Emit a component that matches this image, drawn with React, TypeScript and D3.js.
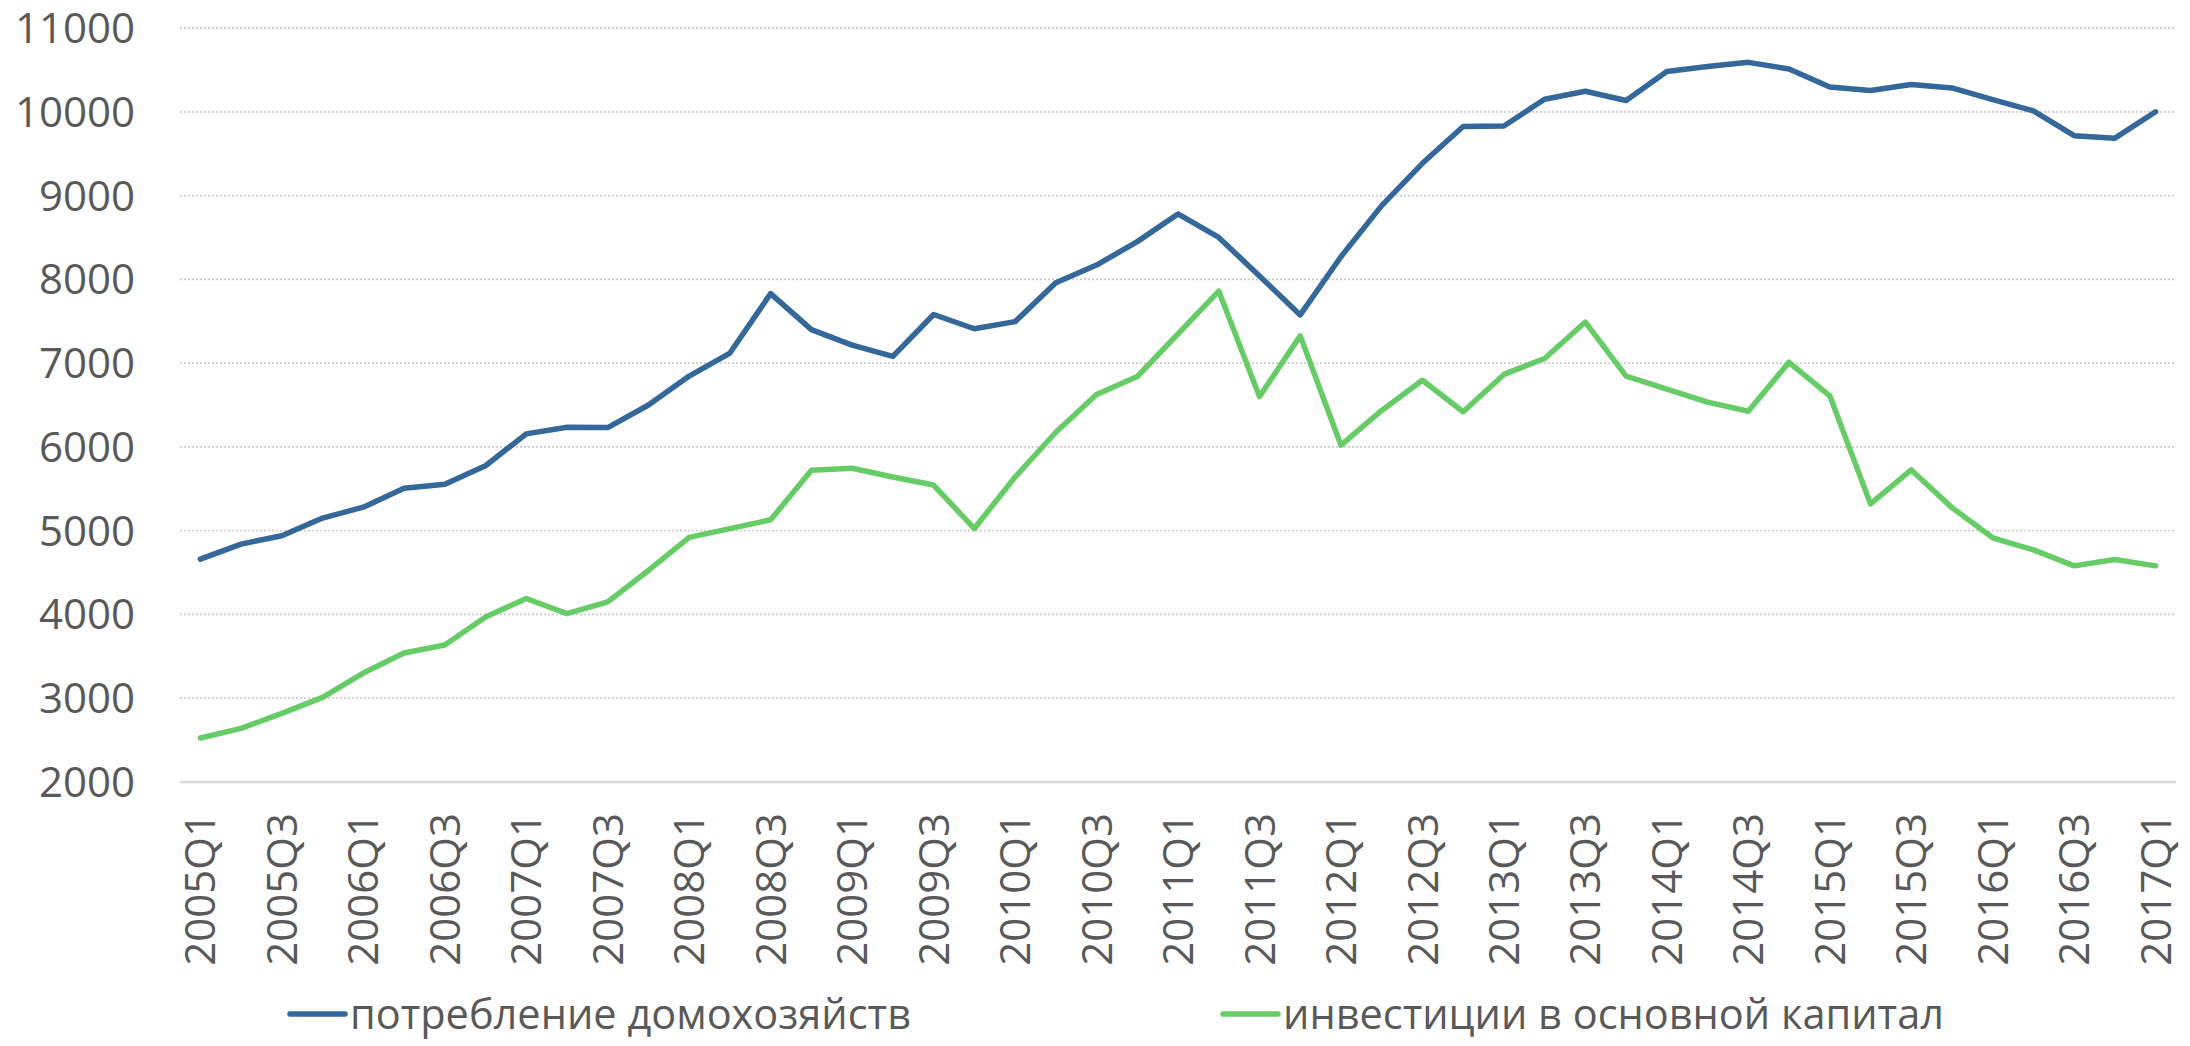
import React, { useRef, useEffect } from 'react';
import * as d3 from 'd3';

const quarters = [
  '2005Q1', '2005Q2', '2005Q3', '2005Q4', '2006Q1', '2006Q2', '2006Q3', '2006Q4',
  '2007Q1', '2007Q2', '2007Q3', '2007Q4', '2008Q1', '2008Q2', '2008Q3', '2008Q4',
  '2009Q1', '2009Q2', '2009Q3', '2009Q4', '2010Q1', '2010Q2', '2010Q3', '2010Q4',
  '2011Q1', '2011Q2', '2011Q3', '2011Q4', '2012Q1', '2012Q2', '2012Q3', '2012Q4',
  '2013Q1', '2013Q2', '2013Q3', '2013Q4', '2014Q1', '2014Q2', '2014Q3', '2014Q4',
  '2015Q1', '2015Q2', '2015Q3', '2015Q4', '2016Q1', '2016Q2', '2016Q3', '2016Q4',
  '2017Q1',
];

// потребление домохозяйств
const consumption = [
  4660, 4840, 4940, 5150, 5280, 5505, 5555, 5775, 6155, 6235, 6230, 6500, 6845,
  7120, 7830, 7400, 7215, 7080, 7580, 7410, 7495, 7960, 8170, 8450, 8780, 8500,
  8040, 7575, 8270, 8880, 9385, 9825, 9830, 10150, 10245, 10135, 10480, 10540,
  10590, 10510, 10295, 10255, 10325, 10285, 10145, 10010, 9715, 9685, 10000,
];

// инвестиции в основной капитал
const investment = [
  2525, 2640, 2820, 3010, 3300, 3540, 3635, 3970, 4190, 4010, 4150, 4525, 4920,
  5025, 5130, 5720, 5745, 5640, 5545, 5025, 5640, 6175, 6625, 6840, 7350, 7860,
  6600, 7325, 6020, 6435, 6795, 6420, 6865, 7055, 7490, 6845, 6690, 6535, 6425,
  7010, 6610, 5320, 5725, 5275, 4915, 4770, 4580, 4655, 4580,
];

const yTicks = [2000, 3000, 4000, 5000, 6000, 7000, 8000, 9000, 10000, 11000];

const seriesNames = ['потребление домохозяйств', 'инвестиции в основной капитал'];
const seriesColors = ['#34679a', '#66cc66'];

function App() {
  const chartRef = useRef(null);

  useEffect(() => {
    drawChart();
  }, []);

  const drawChart = () => {
    const svgWidth = 2190;
    const svgHeight = 1046;
    const left = 180;
    const right = 2176;
    const top = 28;
    const bottom = 782;
    const font = '"Open Sans", "Noto Sans", sans-serif';
    const textColor = '#595959';

    d3.select(chartRef.current).selectAll('*').remove();

    const svg = d3.select(chartRef.current)
      .attr('width', svgWidth)
      .attr('height', svgHeight);

    svg.append('rect')
      .attr('width', svgWidth)
      .attr('height', svgHeight)
      .attr('fill', 'white');

    const xScale = d3.scalePoint()
      .domain(quarters)
      .range([left, right])
      .padding(0.5);

    const yScale = d3.scaleLinear()
      .domain([2000, 11000])
      .range([bottom, top]);

    // gridlines
    svg.append('g')
      .selectAll('line')
      .data(yTicks.filter(d => d !== 2000))
      .enter().append('line')
      .attr('x1', left)
      .attr('x2', right)
      .attr('y1', d => yScale(d))
      .attr('y2', d => yScale(d))
      .attr('stroke', '#cccccc')
      .attr('stroke-width', 1.8)
      .attr('stroke-dasharray', '2,2');

    // category axis line
    svg.append('line')
      .attr('x1', left)
      .attr('x2', right)
      .attr('y1', yScale(2000))
      .attr('y2', yScale(2000))
      .attr('stroke', '#d9d9d9')
      .attr('stroke-width', 2.5);

    // y labels
    svg.append('g')
      .selectAll('text')
      .data(yTicks)
      .enter().append('text')
      .attr('x', 135)
      .attr('y', d => yScale(d) + 15)
      .attr('text-anchor', 'end')
      .attr('font-family', font)
      .attr('font-size', 42)
      .attr('fill', textColor)
      .text(d => d);

    // x labels, every other quarter
    svg.append('g')
      .selectAll('text')
      .data(quarters.filter((d, i) => i % 2 === 0))
      .enter().append('text')
      .attr('transform', d => `translate(${xScale(d)},813) rotate(-90)`)
      .attr('dy', '0.36em')
      .attr('text-anchor', 'end')
      .attr('font-family', font)
      .attr('font-size', 42)
      .attr('fill', textColor)
      .text(d => d);

    const line = d3.line()
      .x((d, i) => xScale(quarters[i]))
      .y(d => yScale(d));

    [consumption, investment].forEach((values, k) => {
      svg.append('path')
        .datum(values)
        .attr('fill', 'none')
        .attr('stroke', seriesColors[k])
        .attr('stroke-width', 5.5)
        .attr('stroke-linejoin', 'round')
        .attr('stroke-linecap', 'round')
        .attr('d', line);
    });

    // Legend
    const legendX = [290, 1223];
    const legend = svg.append('g');
    seriesNames.forEach((name, k) => {
      legend.append('line')
        .attr('x1', legendX[k])
        .attr('x2', legendX[k] + 55)
        .attr('y1', 1014)
        .attr('y2', 1014)
        .attr('stroke', seriesColors[k])
        .attr('stroke-width', 5.5)
        .attr('stroke-linecap', 'round');

      legend.append('text')
        .attr('x', legendX[k] + 60)
        .attr('y', 1029)
        .attr('font-family', font)
        .attr('font-size', 41.5)
        .attr('fill', textColor)
        .text(name);
    });
  };

  return (
    <svg ref={chartRef} style={{ position: 'absolute', left: 0, top: 0 }}></svg>
  );
}

export default App;
